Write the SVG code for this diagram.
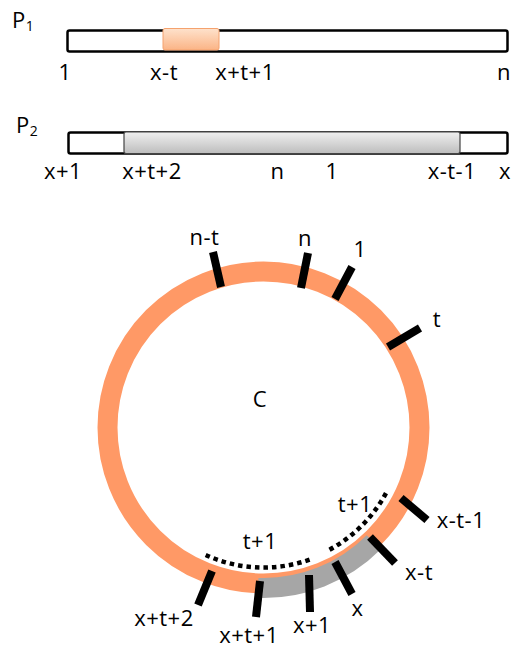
<svg xmlns="http://www.w3.org/2000/svg" width="512" height="648" viewBox="0 0 512 648">
<style>
text{font-family:"Open Sans","Liberation Sans",sans-serif;font-size:22px;letter-spacing:0.5px;fill:#000}
.m{text-anchor:middle}
.bar{fill:#fff;stroke:#000;stroke-width:2.5}
.tick{stroke:#000;stroke-width:8;stroke-linecap:butt;fill:none}
.dot{stroke:#000;stroke-width:4.5;stroke-dasharray:4.5 4;fill:none}
</style>
<defs>
<linearGradient id="gO" x1="0" y1="0" x2="0" y2="1"><stop offset="0" stop-color="#FEE2CC"/><stop offset="1" stop-color="#FBB486"/></linearGradient>
<linearGradient id="gG" x1="0" y1="0" x2="0" y2="1"><stop offset="0" stop-color="#F0F0F0"/><stop offset="1" stop-color="#BDBDBD"/></linearGradient>
</defs>
<rect width="512" height="648" fill="#fff"/>
<g id="P1">
<text x="12" y="28">P<tspan dy="3" font-size="14">1</tspan></text>
<rect class="bar" x="67.5" y="30.5" width="440" height="21" rx="2"/>
<rect x="163" y="28.5" width="56" height="21.5" rx="2" fill="url(#gO)" stroke="#F5A26E" stroke-width="1"/>
<text class="m" x="65" y="80">1</text>
<text class="m" x="164" y="80">x-t</text>
<text class="m" x="245" y="80">x+t+1</text>
<text class="m" x="504" y="80">n</text>
</g>
<g id="P2">
<text x="16" y="133">P<tspan dy="3" font-size="14">2</tspan></text>
<rect class="bar" x="68.5" y="132.5" width="439" height="21" rx="2"/>
<rect x="124" y="132" width="336" height="21.5" rx="2" fill="url(#gG)" stroke="#444" stroke-width="1.2"/>
<text class="m" x="63" y="179">x+1</text>
<text class="m" x="152" y="179">x+t+2</text>
<text class="m" x="277.5" y="179">n</text>
<text class="m" x="332" y="179">1</text>
<text class="m" x="452" y="179">x-t-1</text>
<text class="m" x="505" y="179">x</text>
</g>
<g id="C">
<circle cx="263.5" cy="427.5" r="156" fill="none" stroke="#FF9966" stroke-width="20"/>
<path d="M373.8 542.3 A156 156 0 0 1 258.1 587.9" fill="none" stroke="#A6A6A6" stroke-width="20"/>
<text class="m" x="260" y="407">C</text>
</g>
<g id="connectors">
<path class="dot" d="M205.7 555 A140 140 0 0 0 311.6 559"/>
<path class="dot" d="M329.5 549.7 A139 139 0 0 0 387.3 490.6"/>
</g>
<g id="tick-n-t"><line class="tick" x1="213" y1="252" x2="221" y2="287"/><text class="m" x="204.5" y="245">n-t</text></g>
<g id="tick-n"><line class="tick" x1="308" y1="253" x2="301" y2="288"/><text class="m" x="305" y="246">n</text></g>
<g id="tick-1"><line class="tick" x1="352" y1="267" x2="335" y2="299"/><text class="m" x="360" y="257">1</text></g>
<g id="tick-t"><line class="tick" x1="420" y1="328" x2="388" y2="347"/><text class="m" x="437" y="327">t</text></g>
<g id="tick-x-t-1"><line class="tick" x1="401" y1="498" x2="427" y2="520"/><text class="m" x="461" y="528">x-t-1</text></g>
<g id="tick-x-t"><line class="tick" x1="370" y1="537" x2="395" y2="563"/><text class="m" x="419" y="580">x-t</text></g>
<g id="tick-x"><line class="tick" x1="335" y1="562" x2="352" y2="594"/><text class="m" x="357.5" y="616">x</text></g>
<g id="tick-x+1"><line class="tick" x1="309" y1="575" x2="310" y2="612"/><text class="m" x="312" y="633">x+1</text></g>
<g id="tick-x+t+1"><line class="tick" x1="260" y1="581" x2="256" y2="617"/><text class="m" x="249" y="643">x+t+1</text></g>
<g id="tick-x+t+2"><line class="tick" x1="212" y1="571" x2="198" y2="605"/><text class="m" x="164" y="626">x+t+2</text></g>
<g id="label-t+1-a"><text class="m" x="260" y="549">t+1</text></g>
<g id="label-t+1-b"><text class="m" x="355" y="512">t+1</text></g>
</svg>
